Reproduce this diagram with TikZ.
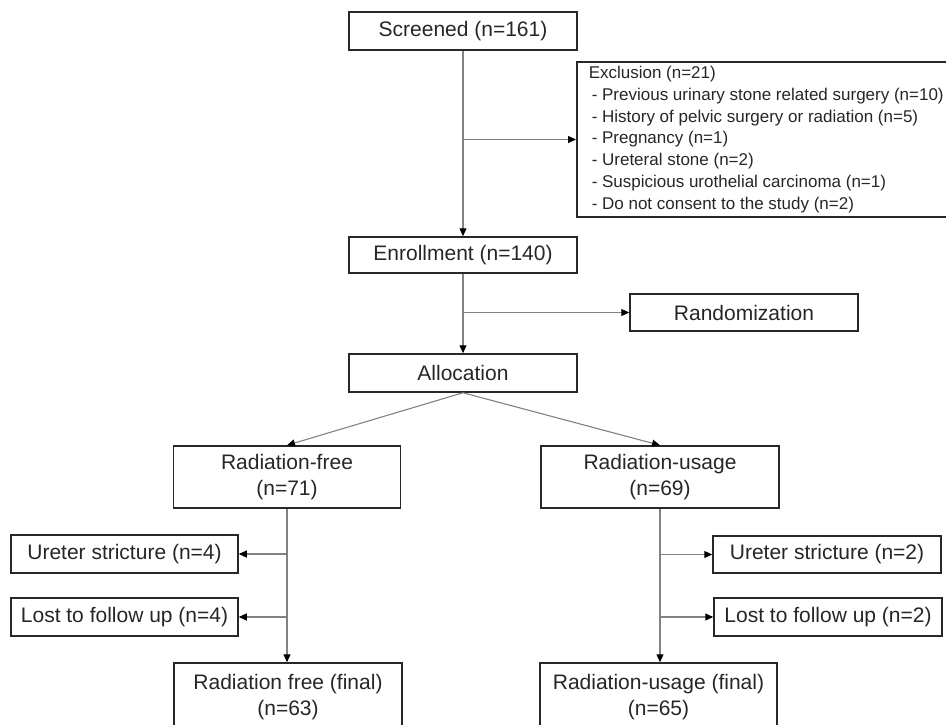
\documentclass[tikz,border=0pt]{standalone}
\usepackage{fontspec}
\setmainfont{Liberation Sans}
\usetikzlibrary{arrows.meta}
\definecolor{boxline}{RGB}{40,40,40}
\definecolor{linkgray}{RGB}{130,130,130}
\tikzset{
  arr/.style={draw=linkgray,line width=1.1pt,-{Triangle[length=8pt,width=7pt,color=black]}},
}

\begin{document}
\begin{tikzpicture}
  [x=1pt,y=-1pt,every node/.style={draw=boxline,line width=1.5pt,inner sep=0pt,align=center,text=black!85,font=\fontsize{21}{26}\selectfont}]
  \useasboundingbox (0,0) rectangle (946,724);
  \node (scr) [minimum width=228,minimum height=38] at (463,31) {Screened (n=161)};
  \node (excl) [anchor=west,align=left,inner xsep=12pt,minimum height=155,font=\fontsize{17}{21.7}\selectfont] at (576,139.5)
    {Exclusion (n=21)\\
     \hspace*{3pt}- Previous urinary stone related surgery (n=10)\\
     \hspace*{3pt}- History of pelvic surgery or radiation (n=5)\\
     \hspace*{3pt}- Pregnancy (n=1)\\
     \hspace*{3pt}- Ureteral stone (n=2)\\
     \hspace*{3pt}- Suspicious urothelial carcinoma (n=1)\\
     \hspace*{3pt}- Do not consent to the study (n=2)};
  \node (enr) [minimum width=228,minimum height=36] at (463,255) {Enrollment (n=140)};
  \node (rand) [minimum width=228,minimum height=37] at (744,312.5) {Randomization};
  \node (alloc) [minimum width=228,minimum height=38] at (463,373) {Allocation};
  \node (rf) [minimum width=227,minimum height=62] at (287,477) {Radiation-free\\(n=71)};
  \node (ru) [minimum width=238,minimum height=62] at (660,477) {Radiation-usage\\(n=69)};
  \node (us1) [minimum width=227,minimum height=38] at (124.5,554) {Ureter stricture (n=4)};
  \node (lf1) [minimum width=227,minimum height=38] at (124.5,617) {Lost to follow up (n=4)};
  \node (us2) [minimum width=228,minimum height=37] at (827,554.5) {Ureter stricture (n=2)};
  \node (lf2) [minimum width=228,minimum height=38] at (828,617) {Lost to follow up (n=2)};
  \node (rff) [minimum width=228,minimum height=68] at (288,697) {Radiation free (final)\\(n=63)};
  \node (ruf) [minimum width=237,minimum height=68] at (658.5,697) {Radiation-usage (final)\\(n=65)};

  \draw[arr] (scr) -- (enr);
  \draw[arr] (scr.south |- excl.west) -- (excl.west);
  \draw[arr] (enr.south |- rand) -- (rand);
  \draw[arr] (enr) -- (alloc);
  \foreach \to in {rf,ru}
    \draw[arr] (alloc.south) -- (\to.north);
  \foreach \from/\to in {rf/us1,rf/lf1,ru/us2,ru/lf2}
    \draw[arr] (\from.south |- \to) -- (\to);
  \foreach \from/\to in {rf/rff,ru/ruf}
    \draw[arr] (\from.south) -- (\from.south |- \to.north);

\end{tikzpicture}
\end{document}
